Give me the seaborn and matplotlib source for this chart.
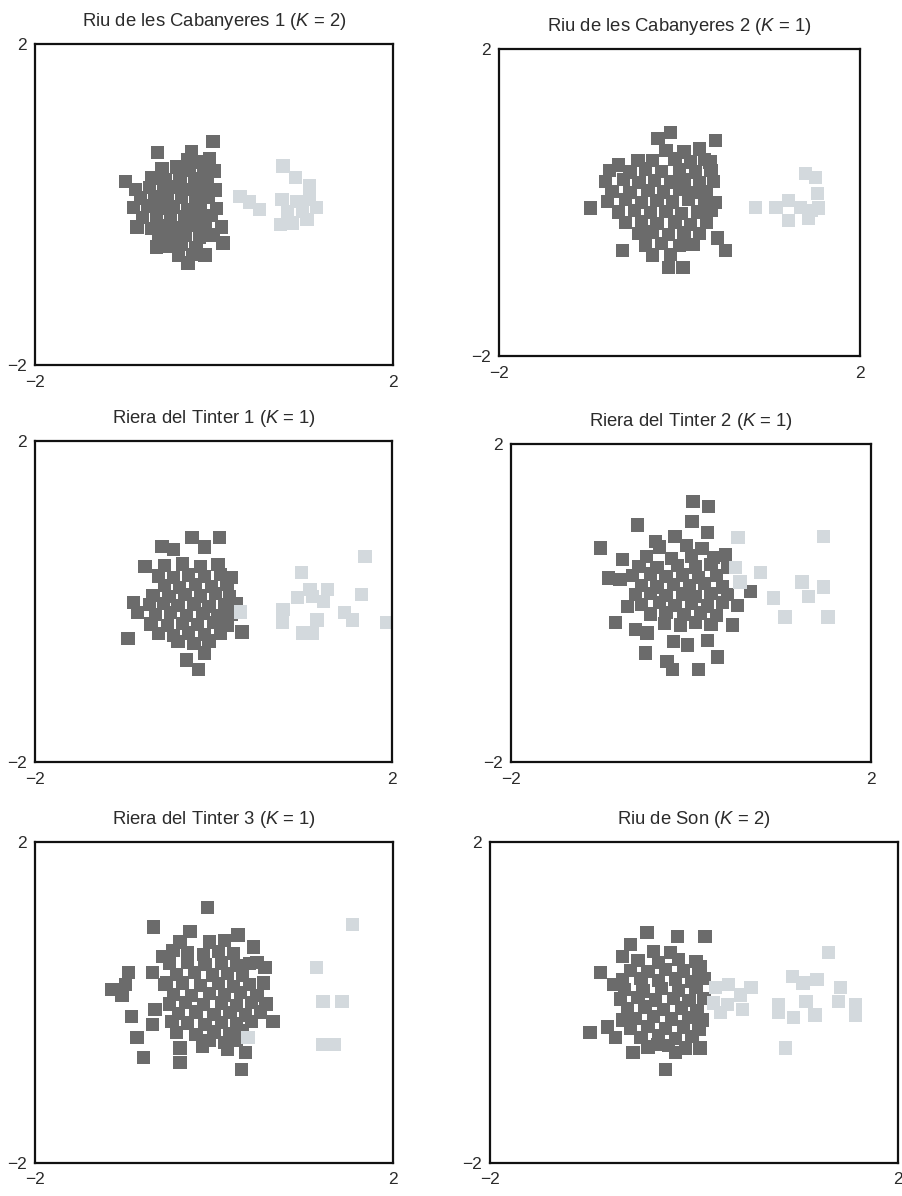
import pandas as pd
import matplotlib
matplotlib.use("Agg")
import matplotlib.pyplot as plt
import seaborn as sns

# panel titles (site name, K)
sites = ["Riu de les Cabanyeres 1", "Riu de les Cabanyeres 2",
         "Riera del Tinter 1", "Riera del Tinter 2",
         "Riera del Tinter 3", "Riu de Son"]
k_values = [2, 1, 1, 1, 1, 2]

# points, (x, y) in axis units
cab1_dark = [
    (-0.01, 0.79), (-0.63, 0.65), (-0.25, 0.66), (-0.99, 0.29), (0.10, -0.48),
    (-0.64, -0.53), (-0.29, -0.73), (-0.10, -0.63),
    (-0.30, 0.56), (-0.17, 0.53), (-0.05, 0.57),
    (-0.58, 0.45), (-0.42, 0.47), (-0.28, 0.43), (-0.12, 0.46), (0.00, 0.42),
    (-0.70, 0.33), (-0.55, 0.31), (-0.38, 0.35), (-0.22, 0.32), (-0.08, 0.34),
    (-0.88, 0.19), (-0.72, 0.21), (-0.56, 0.18), (-0.41, 0.22), (-0.27, 0.19), (-0.12, 0.20), (0.02, 0.18),
    (-0.82, 0.08), (-0.66, 0.10), (-0.52, 0.06), (-0.36, 0.09), (-0.20, 0.07), (-0.06, 0.09),
    (-0.90, -0.04), (-0.74, -0.02), (-0.60, -0.05), (-0.45, -0.03), (-0.30, -0.06), (-0.15, -0.03), (0.03, -0.05),
    (-0.80, -0.16), (-0.64, -0.14), (-0.49, -0.18), (-0.33, -0.15), (-0.18, -0.17), (-0.03, -0.14),
    (-0.86, -0.28), (-0.70, -0.30), (-0.55, -0.27), (-0.40, -0.29), (-0.25, -0.26), (-0.10, -0.30), (0.08, -0.28),
    (-0.62, -0.40), (-0.47, -0.42), (-0.32, -0.39), (-0.16, -0.41), (-0.01, -0.38),
    (-0.50, -0.52), (-0.36, -0.50), (-0.20, -0.54),
    (-0.40, -0.64), (-0.24, -0.62),
]
cab1_light = [
    (0.29, 0.10), (0.40, 0.03), (0.51, -0.06), (0.77, 0.48), (0.91, 0.34),
    (1.07, 0.23), (0.76, 0.06), (0.93, 0.04), (1.15, -0.04), (0.74, -0.25),
    (0.88, -0.23), (1.04, -0.19), (0.82, -0.09), (0.99, -0.09), (1.07, 0.06),
]

cab2_dark = [
    (-0.10, 0.91), (-0.24, 0.84), (0.40, 0.81), (-0.99, -0.07), (-0.63, -0.62),
    (-0.12, -0.84), (0.04, -0.84), (0.51, -0.62), (0.42, -0.46), (-0.46, 0.55),
    (0.34, 0.53), (-0.68, 0.49),
    (-0.15, 0.68), (0.05, 0.66), (0.22, 0.70),
    (-0.30, 0.55), (-0.05, 0.57), (0.12, 0.53), (0.28, 0.56),
    (-0.78, 0.42), (-0.55, 0.40), (-0.38, 0.44), (-0.20, 0.41), (0.00, 0.43), (0.18, 0.40), (0.35, 0.42),
    (-0.82, 0.28), (-0.62, 0.30), (-0.45, 0.26), (-0.28, 0.29), (-0.10, 0.27), (0.05, 0.30), (0.22, 0.26), (0.38, 0.28),
    (-0.75, 0.15), (-0.55, 0.13), (-0.35, 0.16), (-0.18, 0.14), (0.00, 0.17), (0.15, 0.13), (0.30, 0.15),
    (-0.80, 0.02), (-0.60, 0.04), (-0.42, 0.00), (-0.25, 0.03), (-0.08, 0.01), (0.10, 0.04), (0.28, 0.02), (0.40, 0.00),
    (-0.68, -0.12), (-0.50, -0.10), (-0.32, -0.13), (-0.15, -0.11), (0.02, -0.14), (0.20, -0.12), (0.35, -0.10),
    (-0.60, -0.26), (-0.42, -0.24), (-0.25, -0.27), (-0.05, -0.25), (0.12, -0.28), (0.30, -0.26),
    (-0.45, -0.40), (-0.30, -0.38), (-0.12, -0.41), (0.05, -0.39), (0.22, -0.40),
    (-0.38, -0.55), (-0.20, -0.53), (0.00, -0.56), (0.15, -0.54),
    (-0.30, -0.68), (-0.10, -0.67),
]
cab2_light = [
    (0.84, -0.06), (1.07, -0.06), (1.21, 0.03), (1.40, 0.38), (1.51, 0.33),
    (1.53, 0.12), (1.34, -0.06), (1.46, -0.10), (1.54, -0.07), (1.21, -0.23),
    (1.43, -0.20),
]

tin1_dark = [
    (-0.24, 0.80), (0.07, 0.80), (-0.58, 0.69), (-0.45, 0.65), (-0.10, 0.68),
    (-0.77, 0.44), (-0.90, -0.01), (-0.85, -0.14), (-0.96, -0.46), (0.32, -0.38),
    (-0.30, -0.73), (-0.17, -0.85), (-0.10, -0.64),
    (-0.55, 0.45), (-0.35, 0.47), (-0.15, 0.44), (0.05, 0.46),
    (-0.62, 0.32), (-0.45, 0.30), (-0.28, 0.33), (-0.10, 0.31), (0.08, 0.34), (0.20, 0.30),
    (-0.55, 0.20), (-0.38, 0.18), (-0.20, 0.21), (-0.02, 0.19), (0.15, 0.22),
    (-0.68, 0.08), (-0.50, 0.06), (-0.32, 0.09), (-0.15, 0.07), (0.02, 0.10), (0.18, 0.06),
    (-0.72, -0.04), (-0.56, -0.02), (-0.40, -0.05), (-0.22, -0.03), (-0.05, -0.06), (0.12, -0.04), (0.25, -0.02),
    (-0.65, -0.16), (-0.48, -0.14), (-0.30, -0.17), (-0.12, -0.15), (0.05, -0.18), (0.20, -0.16),
    (-0.70, -0.28), (-0.52, -0.30), (-0.35, -0.27), (-0.18, -0.29), (0.00, -0.26), (0.15, -0.30),
    (-0.62, -0.40), (-0.45, -0.42), (-0.28, -0.39), (-0.10, -0.41), (0.08, -0.40),
    (-0.40, -0.50), (-0.22, -0.52), (-0.05, -0.49),
]
tin1_light = [
    (1.70, 0.56), (0.99, 0.36), (1.66, 0.09), (1.08, 0.15), (1.28, 0.15),
    (0.94, 0.05), (1.11, 0.06), (1.23, 0.00), (0.78, -0.10), (1.47, -0.14),
    (1.56, -0.23), (0.77, -0.26), (1.16, -0.23), (1.00, -0.39), (1.11, -0.39),
    (1.94, -0.26), (0.30, -0.13),
]

tin2_dark = [
    (0.02, 1.27), (0.19, 1.21), (-0.60, 0.98), (0.01, 1.02), (-1.01, 0.69),
    (0.18, 0.88), (-0.18, 0.83), (-0.40, 0.77), (0.38, 0.60), (-0.76, 0.54),
    (-0.92, 0.31), (-0.79, 0.29), (0.66, 0.14), (-0.71, -0.05), (-0.84, -0.25),
    (-0.62, -0.34), (-0.49, -0.38), (0.51, -0.03), (0.46, -0.28), (0.18, -0.47),
    (-0.20, -0.49), (-0.51, -0.63), (-0.04, -0.53), (0.29, -0.68), (-0.27, -0.74),
    (-0.21, -0.84), (0.08, -0.84),
    (-0.35, 0.70), (-0.05, 0.72), (0.12, 0.68),
    (-0.50, 0.58), (-0.22, 0.56), (0.00, 0.59), (0.25, 0.57),
    (-0.58, 0.46), (-0.38, 0.44), (-0.15, 0.47), (0.05, 0.45), (0.22, 0.48), (0.40, 0.44),
    (-0.65, 0.34), (-0.45, 0.36), (-0.28, 0.33), (-0.10, 0.35), (0.08, 0.32), (0.28, 0.34),
    (-0.55, 0.22), (-0.38, 0.20), (-0.20, 0.23), (-0.02, 0.21), (0.15, 0.24), (0.35, 0.20),
    (-0.62, 0.10), (-0.45, 0.12), (-0.28, 0.09), (-0.10, 0.11), (0.05, 0.08), (0.22, 0.12), (0.40, 0.10),
    (-0.55, -0.02), (-0.35, 0.00), (-0.18, -0.03), (0.00, -0.01), (0.18, -0.04), (0.35, 0.00),
    (-0.45, -0.14), (-0.28, -0.12), (-0.08, -0.15), (0.10, -0.13), (0.28, -0.16),
    (-0.30, -0.26), (-0.12, -0.28), (0.05, -0.25), (0.22, -0.27),
]
tin2_light = [
    (0.52, 0.82), (1.47, 0.83), (0.49, 0.44), (0.77, 0.38), (0.54, 0.26),
    (1.23, 0.26), (1.47, 0.20), (0.91, 0.06), (1.30, 0.08), (1.04, -0.18),
    (1.52, -0.18),
]

tin3_dark = [
    (-0.07, 1.18), (-0.68, 0.94), (-0.27, 0.88), (0.27, 0.84), (-0.38, 0.75),
    (-0.46, 0.65), (0.44, 0.69), (-0.57, 0.57), (0.48, 0.50), (0.57, 0.43),
    (-0.96, 0.37), (-0.69, 0.37), (-0.99, 0.22), (-1.14, 0.16), (-1.03, 0.09),
    (-0.92, -0.18), (-0.66, -0.09), (-0.69, -0.28), (-0.86, -0.44), (-0.79, -0.69),
    (-0.38, -0.57), (-0.38, -0.75), (-0.13, -0.55), (0.15, -0.59), (0.35, -0.63),
    (0.31, -0.84), (0.66, -0.24), (-0.47, -0.24), (-0.53, 0.24),
    (-0.05, 0.75), (0.12, 0.77),
    (-0.30, 0.62), (-0.12, 0.60), (0.05, 0.63), (0.22, 0.61),
    (-0.50, 0.48), (-0.30, 0.50), (-0.10, 0.47), (0.08, 0.49), (0.25, 0.46), (0.40, 0.48),
    (-0.42, 0.35), (-0.22, 0.37), (-0.02, 0.34), (0.15, 0.36), (0.32, 0.33),
    (-0.55, 0.22), (-0.35, 0.24), (-0.15, 0.21), (0.05, 0.23), (0.22, 0.20), (0.40, 0.22), (0.55, 0.24),
    (-0.45, 0.10), (-0.25, 0.08), (-0.05, 0.11), (0.12, 0.09), (0.30, 0.12), (0.48, 0.08),
    (-0.50, -0.02), (-0.32, 0.00), (-0.12, -0.03), (0.08, -0.01), (0.25, -0.04), (0.42, 0.00), (0.58, -0.02),
    (-0.40, -0.14), (-0.20, -0.12), (0.00, -0.15), (0.18, -0.13), (0.35, -0.16), (0.52, -0.12),
    (-0.30, -0.26), (-0.10, -0.28), (0.08, -0.25), (0.25, -0.27), (0.42, -0.24),
    (-0.42, -0.38), (-0.20, -0.40), (0.00, -0.37), (0.18, -0.39), (0.32, -0.36),
    (-0.05, -0.48), (0.12, -0.50), (0.25, -0.47),
]
tin3_light = [
    (1.55, 0.97), (1.15, 0.43), (1.22, 0.01), (1.43, 0.01), (0.38, -0.44),
    (1.22, -0.53), (1.35, -0.53),
]

son_dark = [
    (-0.46, 0.87), (-0.16, 0.82), (0.11, 0.82), (-0.62, 0.72), (-0.70, 0.57),
    (-0.40, 0.63), (-0.23, 0.62), (0.06, 0.44), (-0.92, 0.37), (-0.79, 0.22),
    (-1.02, -0.38), (-0.85, -0.31), (-0.77, -0.44), (-0.60, -0.63), (-0.28, -0.84),
    (-0.36, -0.53), (-0.18, -0.63), (0.06, -0.57), (-0.70, -0.22),
    (-0.55, 0.52), (-0.35, 0.50), (-0.15, 0.53), (0.02, 0.51),
    (-0.62, 0.40), (-0.45, 0.38), (-0.28, 0.41), (-0.10, 0.39), (0.05, 0.42),
    (-0.70, 0.28), (-0.52, 0.30), (-0.35, 0.27), (-0.18, 0.29), (-0.02, 0.26), (0.10, 0.30),
    (-0.68, 0.16), (-0.50, 0.14), (-0.32, 0.17), (-0.15, 0.15), (0.02, 0.18),
    (-0.72, 0.04), (-0.55, 0.06), (-0.38, 0.03), (-0.20, 0.05), (-0.05, 0.02), (0.10, 0.05),
    (-0.65, -0.08), (-0.48, -0.06), (-0.30, -0.09), (-0.12, -0.07), (0.03, -0.10),
    (-0.58, -0.20), (-0.40, -0.18), (-0.22, -0.21), (-0.05, -0.19), (0.08, -0.22),
    (-0.62, -0.32), (-0.45, -0.30), (-0.28, -0.33), (-0.10, -0.31), (0.05, -0.34),
    (-0.52, -0.44), (-0.35, -0.42), (-0.18, -0.45), (-0.02, -0.43),
    (-0.45, -0.56), (-0.25, -0.54), (-0.08, -0.57),
]
son_light = [
    (0.21, 0.18), (0.34, 0.22), (0.46, 0.09), (0.19, -0.01), (0.33, -0.03),
    (0.48, -0.09), (0.26, -0.13), (0.56, 0.18), (1.32, 0.62), (0.97, 0.32),
    (1.07, 0.24), (1.21, 0.28), (1.44, 0.18), (0.83, -0.03), (0.83, -0.13),
    (1.10, 0.01), (1.19, -0.16), (0.98, -0.19), (1.42, 0.01), (1.59, -0.03),
    (1.59, -0.16), (0.90, -0.57),
]

dark_sets = [cab1_dark, cab2_dark, tin1_dark, tin2_dark, tin3_dark, son_dark]
light_sets = [cab1_light, cab2_light, tin1_light, tin2_light, tin3_light, son_light]

# axes boxes [left, bottom, width, height] in figure fractions
boxes = [
    [0.039, 0.695, 0.396, 0.268],
    [0.553, 0.702, 0.399, 0.257],
    [0.039, 0.363, 0.395, 0.268],
    [0.566, 0.363, 0.399, 0.266],
    [0.039, 0.028, 0.396, 0.268],
    [0.543, 0.028, 0.451, 0.268],
]

sns.set_style("white")
plt.rcParams["font.family"] = ["Liberation Sans", "DejaVu Sans"]
plt.rcParams["mathtext.fontset"] = "custom"
plt.rcParams["mathtext.rm"] = "Liberation Sans"
plt.rcParams["mathtext.it"] = "Liberation Sans:italic"

text_col = "#2b2b2b"
palette = {"dark": "#6b6b6b", "light": "#d3d9dd"}

fig = plt.figure(figsize=(9.03, 11.96), dpi=100)

for i in range(6):
    rows = [(x, y, "dark") for x, y in dark_sets[i]] + \
           [(x, y, "light") for x, y in light_sets[i]]
    df = pd.DataFrame(rows, columns=["x", "y", "group"])

    ax = fig.add_axes(boxes[i])
    sns.scatterplot(data=df, x="x", y="y", hue="group", palette=palette,
                    marker="s", s=92, linewidth=0, legend=False, ax=ax)
    ax.set_xlim(-2, 2)
    ax.set_ylim(-2, 2)
    ax.set_xticks([-2, 2])
    ax.set_yticks([-2, 2])
    ax.set_xlabel("")
    ax.set_ylabel("")
    ax.tick_params(length=0, labelsize=12.5, labelcolor=text_col)
    ax.tick_params(axis="x", pad=7)
    ax.tick_params(axis="y", pad=6)
    for sp in ax.spines.values():
        sp.set_visible(True)
        sp.set_color("#111111")
        sp.set_linewidth(1.6)
    ax.set_title(f"{sites[i]} ($K$ = {k_values[i]})", fontsize=13.3,
                 color=text_col, pad=13)

fig.savefig("out.png", dpi=100)
